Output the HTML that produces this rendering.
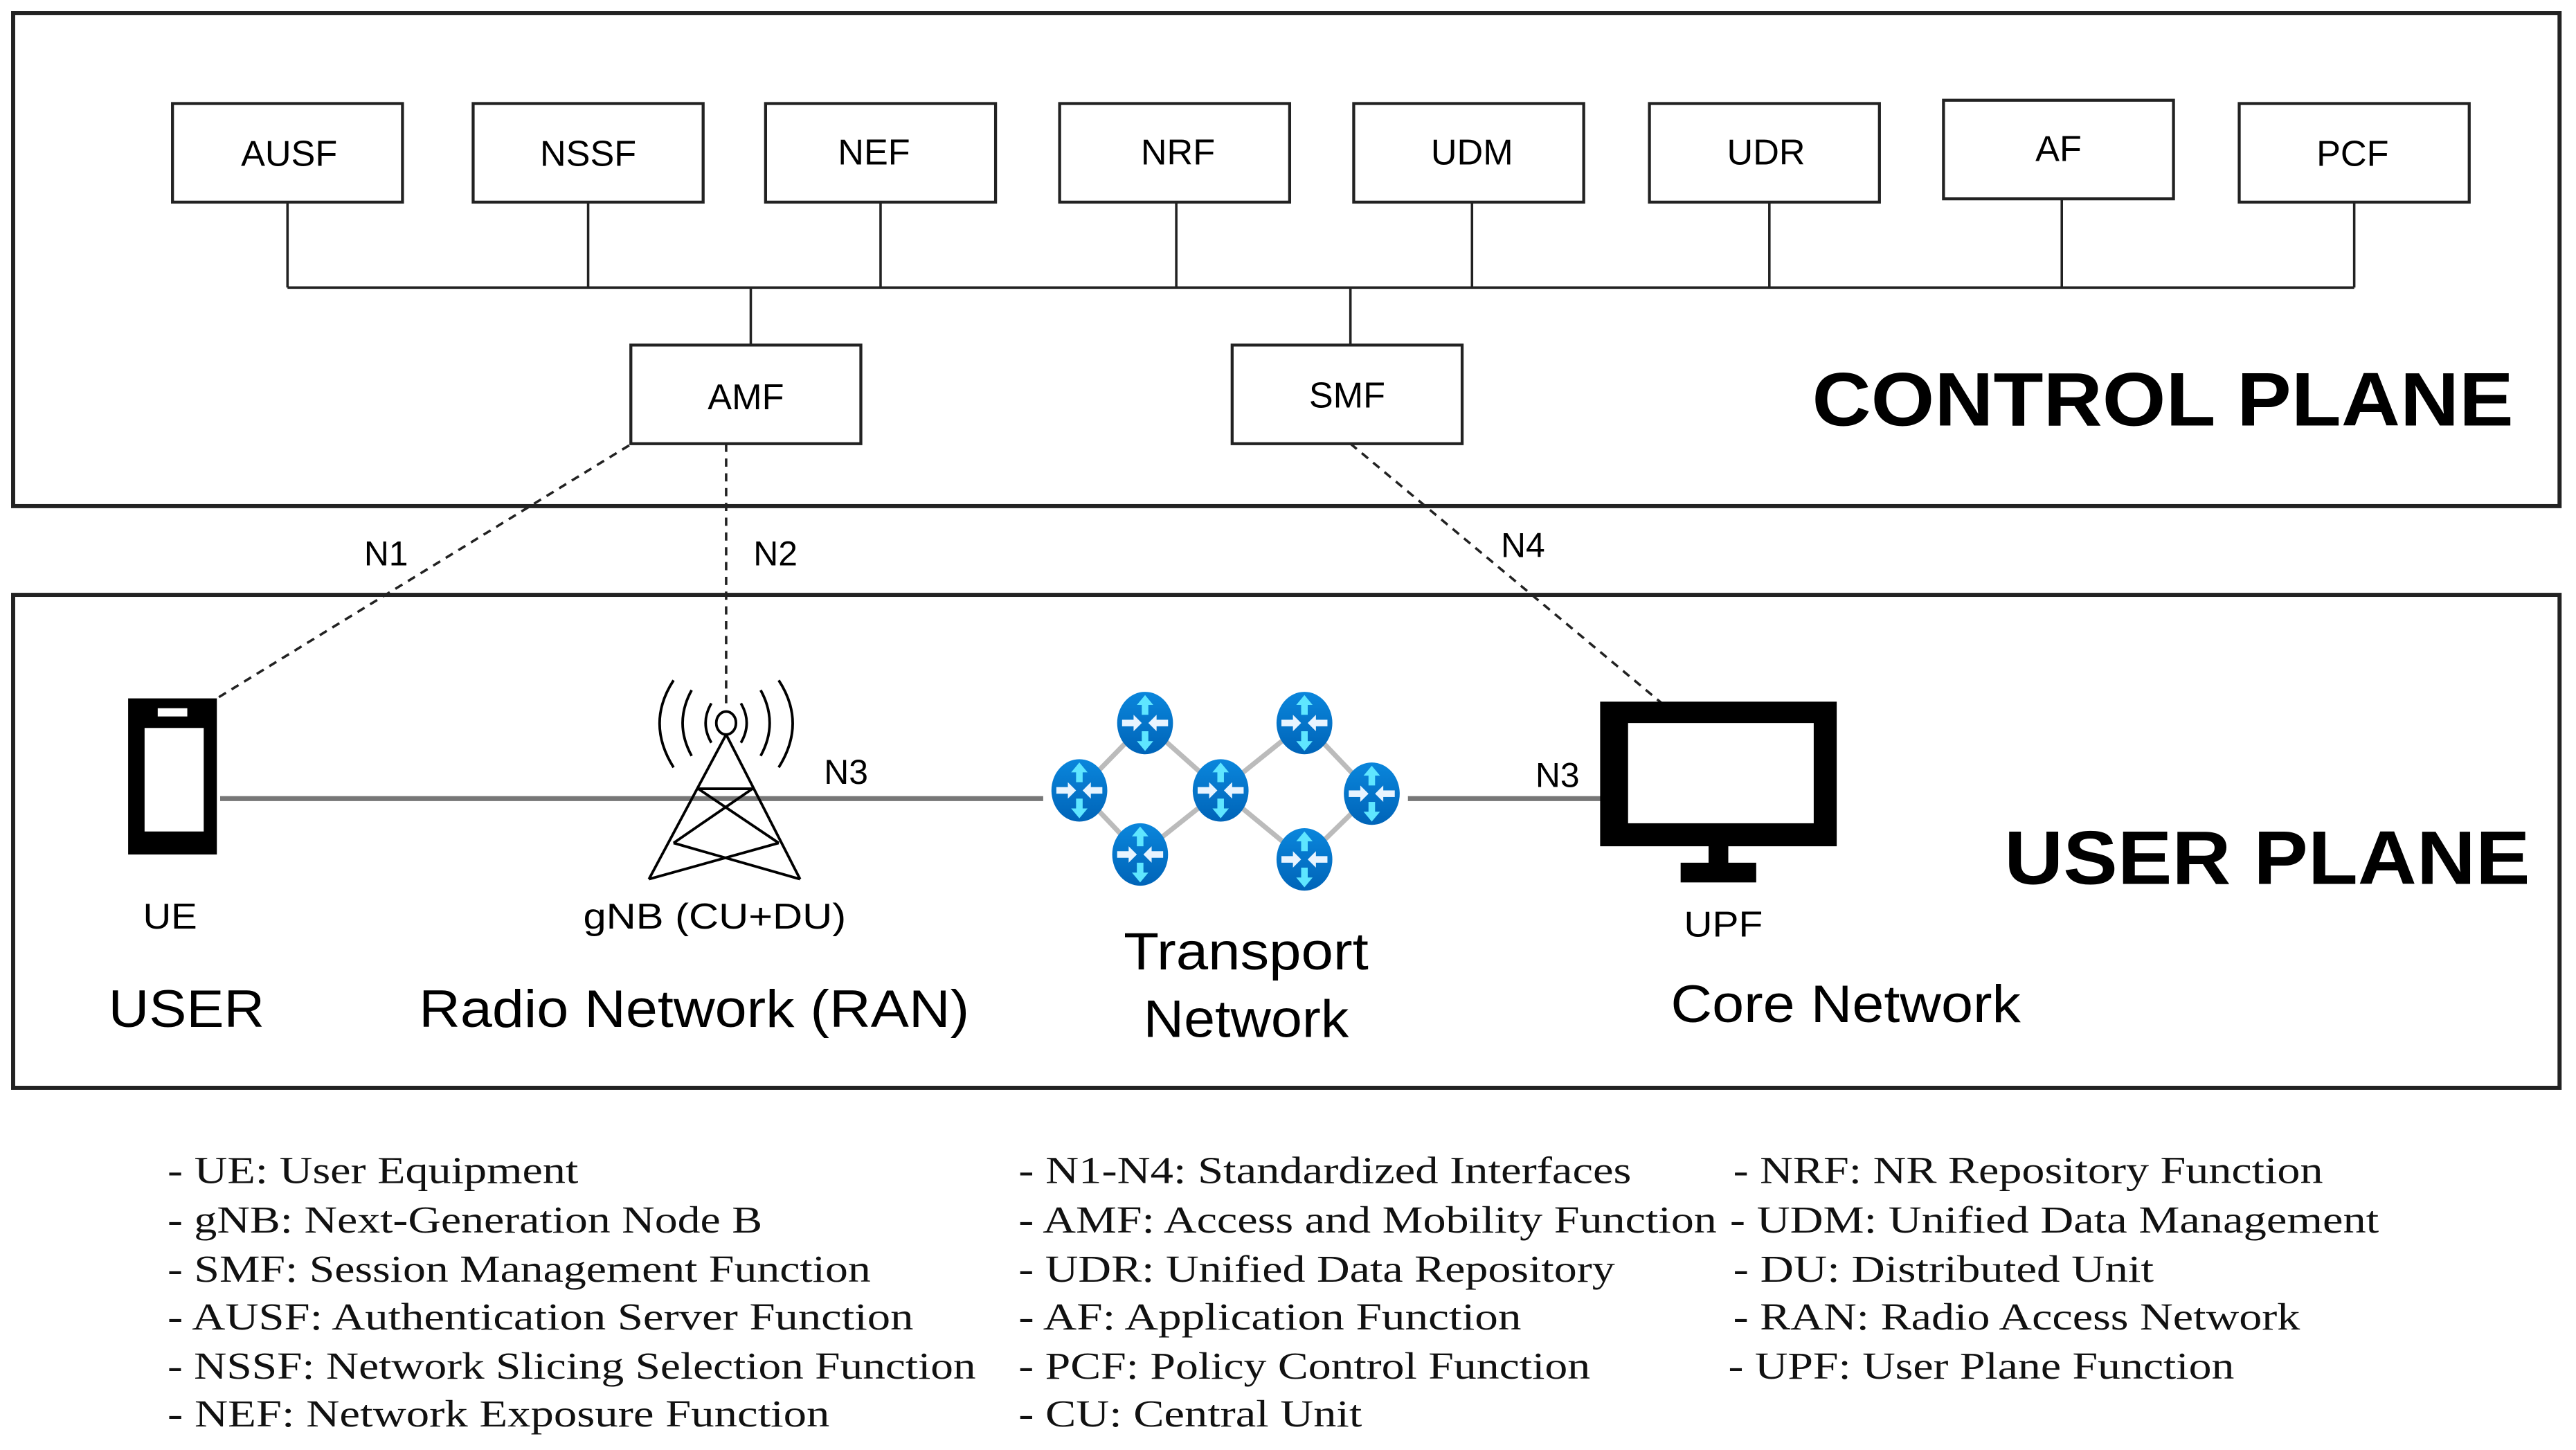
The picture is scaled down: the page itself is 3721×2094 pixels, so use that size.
<!DOCTYPE html>
<html><head><meta charset="utf-8"><style>
html,body{margin:0;padding:0;background:#fff;}
svg{display:block;}
.a{font-family:"Liberation Sans",Arial,sans-serif;fill:#000;}
.s{font-family:"Liberation Serif",serif;fill:#111;font-size:23px;}
</style></head><body>
<svg width="3721" height="2094" viewBox="0 0 1568 882.4" preserveAspectRatio="none" xmlns="http://www.w3.org/2000/svg">
<rect width="1568" height="882.4" fill="#fff"/>
<rect x="8" y="8" width="1550" height="300" fill="none" stroke="#222" stroke-width="2.5"/>
<rect x="8" y="362" width="1550" height="300" fill="none" stroke="#222" stroke-width="2.5"/>
<g fill="#fff" stroke="#222" stroke-width="1.8">
<rect x="105" y="63" width="140" height="60"/>
<rect x="288" y="63" width="140" height="60"/>
<rect x="466" y="63" width="140" height="60"/>
<rect x="645" y="63" width="140" height="60"/>
<rect x="824" y="63" width="140" height="60"/>
<rect x="1004" y="63" width="140" height="60"/>
<rect x="1183" y="61" width="140" height="60"/>
<rect x="1363" y="63" width="140" height="60"/>
<rect x="384" y="210" width="140" height="60"/>
<rect x="750" y="210" width="140" height="60"/>
</g>
<g stroke="#222" stroke-width="1.5" fill="none">
<line x1="175" y1="175" x2="1433" y2="175"/>
<line x1="175" y1="123" x2="175" y2="175"/>
<line x1="358" y1="123" x2="358" y2="175"/>
<line x1="536" y1="123" x2="536" y2="175"/>
<line x1="716" y1="123" x2="716" y2="175"/>
<line x1="896" y1="123" x2="896" y2="175"/>
<line x1="1077" y1="123" x2="1077" y2="175"/>
<line x1="1255" y1="121" x2="1255" y2="175"/>
<line x1="1433" y1="123" x2="1433" y2="175"/>
<line x1="457" y1="175" x2="457" y2="210"/>
<line x1="822" y1="175" x2="822" y2="210"/>
</g>
<g class="a" font-size="22" text-anchor="middle">
<text x="176" y="101">AUSF</text>
<text x="358" y="101">NSSF</text>
<text x="532" y="100">NEF</text>
<text x="717" y="100">NRF</text>
<text x="896" y="100">UDM</text>
<text x="1075" y="100">UDR</text>
<text x="1253" y="98">AF</text>
<text x="1432" y="101">PCF</text>
<text x="454" y="249">AMF</text>
<text x="820" y="248">SMF</text>
</g>
<text class="a" x="1103" y="259" font-size="46" font-weight="bold" textLength="427" lengthAdjust="spacingAndGlyphs">CONTROL PLANE</text>
<text class="a" x="1220" y="538" font-size="46" font-weight="bold" textLength="320" lengthAdjust="spacingAndGlyphs">USER PLANE</text>
<g stroke="#222" stroke-width="1.5" stroke-dasharray="5,4" fill="none">
<line x1="383" y1="271" x2="132" y2="425"/>
<line x1="442" y1="270" x2="442" y2="432"/>
<line x1="822" y1="270" x2="1014" y2="430"/>
</g>
<g class="a" font-size="21" text-anchor="middle">
<text x="235" y="344">N1</text>
<text x="472" y="344">N2</text>
<text x="927" y="339">N4</text>
<text x="515" y="477">N3</text>
<text x="948" y="479">N3</text>
</g>
<g stroke="#777" stroke-width="3">
<line x1="134" y1="486" x2="635" y2="486"/>
<line x1="857" y1="486" x2="975" y2="486"/>
</g>
<rect x="78" y="425" width="54" height="95" fill="#000"/>
<rect x="88" y="443" width="36" height="63" fill="#fff"/>
<rect x="96" y="431" width="18" height="5" fill="#fff"/>
<g stroke="#000" stroke-width="1.6" fill="none">
<ellipse cx="442" cy="440" rx="6" ry="7"/>
<line x1="442" y1="447" x2="395" y2="535"/>
<line x1="442" y1="447" x2="487" y2="535"/>
<line x1="425" y1="480" x2="474" y2="513"/><line x1="458" y1="480" x2="410" y2="513"/>
<line x1="410" y1="513" x2="487" y2="535"/><line x1="474" y1="513" x2="395" y2="535"/>
<line x1="425" y1="480" x2="458" y2="480"/>
<path d="M433 428 Q426 440 433 452"/><path d="M451 428 Q458 440 451 452"/>
<path d="M421 420 Q410 440 421 460"/><path d="M463 420 Q474 440 463 460"/>
<path d="M410 414 Q393 440 410 467"/><path d="M474 414 Q491 440 474 467"/>
</g>
<g stroke="#bbb" stroke-width="3">
<line x1="657" y1="481" x2="697" y2="440"/><line x1="697" y1="440" x2="743" y2="481"/>
<line x1="657" y1="481" x2="694" y2="520"/><line x1="694" y1="520" x2="743" y2="481"/>
<line x1="743" y1="481" x2="794" y2="440"/><line x1="794" y1="440" x2="835" y2="483"/>
<line x1="743" y1="481" x2="794" y2="523"/><line x1="794" y1="523" x2="835" y2="483"/>
</g>
<defs>
<linearGradient id="g" x1="0" y1="0" x2="0" y2="1"><stop offset="0" stop-color="#0a86dc"/><stop offset="1" stop-color="#0064b8"/></linearGradient>
<g id="r">
<ellipse cx="0" cy="0" rx="17" ry="19" fill="url(#g)"/>
<g fill="#5fe6ff"><rect x="-2" y="-14" width="4" height="9"/><polygon points="-5,-11 5,-11 0,-17"/>
<rect x="-2" y="5" width="4" height="9"/><polygon points="-5,11 5,11 0,17"/></g>
<g fill="#e8f4ff"><rect x="-14" y="-2" width="8" height="4"/><polygon points="-7,-5 -7,5 -2,0"/>
<rect x="6" y="-2" width="8" height="4"/><polygon points="7,-5 7,5 2,0"/></g>
</g>
</defs>
<use href="#r" x="697" y="440"/><use href="#r" x="794" y="440"/>
<use href="#r" x="657" y="481"/><use href="#r" x="743" y="481"/><use href="#r" x="835" y="483"/>
<use href="#r" x="694" y="520"/><use href="#r" x="794" y="523"/>
<rect x="974" y="427" width="144" height="88" fill="#000"/>
<rect x="991" y="440" width="113" height="61" fill="#fff"/>
<rect x="1040" y="514" width="12" height="12" fill="#000"/>
<rect x="1023" y="525" width="46" height="12" fill="#000"/>
<g class="a" lengthAdjust="spacingAndGlyphs">
<text x="87" y="565" font-size="22" textLength="33" lengthAdjust="spacingAndGlyphs">UE</text>
<text x="355" y="565" font-size="22" textLength="160" lengthAdjust="spacingAndGlyphs">gNB (CU+DU)</text>
<text x="1025" y="570" font-size="22" textLength="48" lengthAdjust="spacingAndGlyphs">UPF</text>
<text x="66" y="625" font-size="32" textLength="95" lengthAdjust="spacingAndGlyphs">USER</text>
<text x="255" y="625" font-size="32" textLength="335" lengthAdjust="spacingAndGlyphs">Radio Network (RAN)</text>
<text x="684" y="590" font-size="32" textLength="149" lengthAdjust="spacingAndGlyphs">Transport</text>
<text x="696" y="631" font-size="32" textLength="125" lengthAdjust="spacingAndGlyphs">Network</text>
<text x="1017" y="622" font-size="32" textLength="213" lengthAdjust="spacingAndGlyphs">Core Network</text>
</g>
<g class="s">
<text x="102" y="720" textLength="250" lengthAdjust="spacingAndGlyphs">- UE: User Equipment</text>
<text x="102" y="750" textLength="362" lengthAdjust="spacingAndGlyphs">- gNB: Next-Generation Node B</text>
<text x="102" y="780" textLength="428" lengthAdjust="spacingAndGlyphs">- SMF: Session Management Function</text>
<text x="102" y="809" textLength="454" lengthAdjust="spacingAndGlyphs">- AUSF: Authentication Server Function</text>
<text x="102" y="839" textLength="492" lengthAdjust="spacingAndGlyphs">- NSSF: Network Slicing Selection Function</text>
<text x="102" y="868" textLength="403" lengthAdjust="spacingAndGlyphs">- NEF: Network Exposure Function</text>
<text x="620" y="720" textLength="373" lengthAdjust="spacingAndGlyphs">- N1-N4: Standardized Interfaces</text>
<text x="620" y="750" textLength="425" lengthAdjust="spacingAndGlyphs">- AMF: Access and Mobility Function</text>
<text x="620" y="780" textLength="363" lengthAdjust="spacingAndGlyphs">- UDR: Unified Data Repository</text>
<text x="620" y="809" textLength="306" lengthAdjust="spacingAndGlyphs">- AF: Application Function</text>
<text x="620" y="839" textLength="348" lengthAdjust="spacingAndGlyphs">- PCF: Policy Control Function</text>
<text x="620" y="868" textLength="209" lengthAdjust="spacingAndGlyphs">- CU: Central Unit</text>
<text x="1055" y="720" textLength="359" lengthAdjust="spacingAndGlyphs">- NRF: NR Repository Function</text>
<text x="1053" y="750" textLength="395" lengthAdjust="spacingAndGlyphs">- UDM: Unified Data Management</text>
<text x="1055" y="780" textLength="256" lengthAdjust="spacingAndGlyphs">- DU: Distributed Unit</text>
<text x="1055" y="809" textLength="345" lengthAdjust="spacingAndGlyphs">- RAN: Radio Access Network</text>
<text x="1052" y="839" textLength="308" lengthAdjust="spacingAndGlyphs">- UPF: User Plane Function</text>
</g>
</svg>
</body></html>
